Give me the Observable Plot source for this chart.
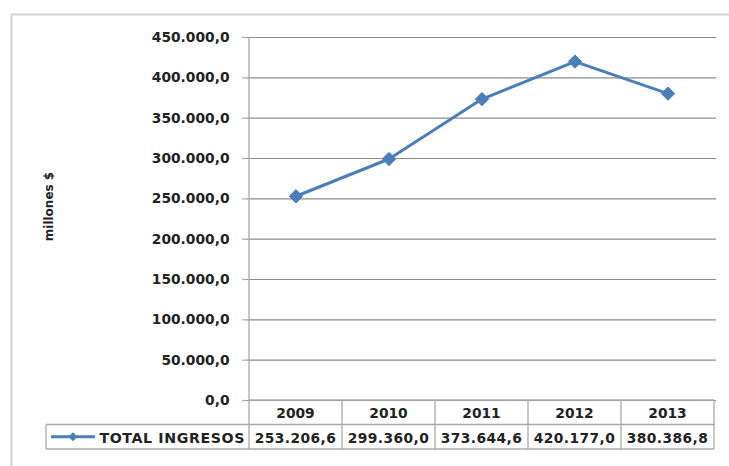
<!DOCTYPE html>
<html>
<head>
<meta charset="utf-8">
<script src="https://cdn.jsdelivr.net/npm/d3@7"></script>
<script src="https://cdn.jsdelivr.net/npm/@observablehq/plot@0.6"></script>
<style>
  body { margin: 0; background: #fff; }
  #chart { position: relative; width: 729px; height: 466px; overflow: hidden; }
</style>
</head>
<body>
<div id="chart"></div>
<script>
// Ingresos totales por año (millones $)
const years = ["2009", "2010", "2011", "2012", "2013"];
const ingresos = [253206.6, 299360.0, 373644.6, 420177.0, 380386.8];
const seriesName = "TOTAL INGRESOS";
const yTitle = "millones $";
const yTicks = [0, 50000, 100000, 150000, 200000, 250000, 300000, 350000, 400000, 450000];

const data = years.map((year, i) => ({year, value: ingresos[i]}));

// Formato numérico es: punto de miles, coma decimal
const es = d3.formatLocale({decimal: ",", thousands: ".", grouping: [3], currency: ["$", ""]});
const fmt = es.format(",.1f");

const font = "DejaVu Sans";
const lineColor = "#4a7ebb";
const gridColor = "#8c8c8c";
const tableColor = "#a9a9a9";

const plot = Plot.plot({
  width: 729,
  height: 466,
  marginTop: 37,
  marginBottom: 66,
  marginLeft: 247,
  marginRight: 13,
  style: {fontFamily: font, fontSize: "13.8px", fontWeight: "bold", color: "#222", background: "transparent", overflow: "visible"},
  x: {type: "band", domain: years, padding: 0, axis: null},
  y: {domain: [0, 450000], label: null},
  marks: [
    Plot.gridY(yTicks, {stroke: gridColor, strokeOpacity: 1, strokeWidth: 1.2}),
    Plot.axisY(yTicks, {tickFormat: fmt, tickSize: 5, tickPadding: 13, stroke: tableColor, strokeWidth: 1.2, label: null}),
    Plot.line(data, {x: "year", y: "value", stroke: lineColor, strokeWidth: 3}),
    Plot.dot(data, {x: "year", y: "value", symbol: "diamond2", r: 6, fill: lineColor, stroke: lineColor, strokeWidth: 1})
  ]
});

document.getElementById("chart").appendChild(plot);

// Marco, título del eje y tabla de datos bajo el gráfico
const svg = d3.select(plot);
const xs = plot.scale("x");
const ys = plot.scale("y");
const bw = xs.bandwidth;
const xLeft = xs.apply(years[0]);
const xRight = xs.apply(years[years.length - 1]) + bw;
const yTop = ys.apply(450000);
const yBase = ys.apply(0);
const rowH = 24.5;
const legendLeft = 46;

svg.insert("rect", ":first-child")
  .attr("x", 11.5).attr("y", 14.5)
  .attr("width", 740).attr("height", 470)
  .attr("fill", "none").attr("stroke", "#d4d4d4").attr("stroke-width", 2);

svg.append("text")
  .attr("transform", `translate(49,${(yTop + yBase) / 2 - 12}) rotate(-90)`)
  .attr("text-anchor", "middle")
  .attr("dominant-baseline", "middle")
  .attr("font-family", font).attr("font-weight", "bold").attr("font-size", 12)
  .attr("fill", "#222")
  .text(yTitle);

const g = svg.append("g").attr("stroke", tableColor).attr("stroke-width", 1.3).attr("fill", "none");
// eje vertical izquierdo hasta el pie de la tabla
g.append("line").attr("x1", xLeft).attr("x2", xLeft).attr("y1", yTop).attr("y2", yBase + 2 * rowH);
// líneas horizontales de la tabla
g.append("line").attr("x1", xLeft).attr("x2", xRight).attr("y1", yBase).attr("y2", yBase);
g.append("line").attr("x1", legendLeft).attr("x2", xRight).attr("y1", yBase + rowH).attr("y2", yBase + rowH);
g.append("line").attr("x1", legendLeft).attr("x2", xRight).attr("y1", yBase + 2 * rowH).attr("y2", yBase + 2 * rowH);
g.append("line").attr("x1", legendLeft).attr("x2", legendLeft).attr("y1", yBase + rowH).attr("y2", yBase + 2 * rowH);
// separadores de columnas
years.forEach(y => {
  const xr = xs.apply(y) + bw;
  g.append("line").attr("x1", xr).attr("x2", xr).attr("y1", yBase).attr("y2", yBase + 2 * rowH);
});

const t = svg.append("g")
  .attr("font-family", font).attr("font-weight", "bold").attr("font-size", 13.8)
  .attr("fill", "#222").attr("text-anchor", "middle").attr("dominant-baseline", "central");
years.forEach((y, i) => {
  const cx = xs.apply(y) + bw / 2;
  t.append("text").attr("x", cx).attr("y", yBase + rowH / 2 + 1).text(y);
  t.append("text").attr("x", cx).attr("y", yBase + rowH * 1.5 + 1).attr("letter-spacing", 0.4).text(fmt(ingresos[i]));
});

// clave de la serie
const ly = yBase + rowH * 1.5;
svg.append("line")
  .attr("x1", legendLeft + 5).attr("x2", legendLeft + 49)
  .attr("y1", ly).attr("y2", ly)
  .attr("stroke", lineColor).attr("stroke-width", 3);
svg.append("path")
  .attr("d", d3.symbol(d3.symbolDiamond2, 50)())
  .attr("transform", `translate(${legendLeft + 27},${ly})`)
  .attr("fill", lineColor);
svg.append("text")
  .attr("x", xLeft - 4).attr("y", ly + 1)
  .attr("text-anchor", "end").attr("dominant-baseline", "central")
  .attr("font-family", font).attr("font-weight", "bold").attr("font-size", 14.2)
  .attr("letter-spacing", 0.6)
  .attr("fill", "#222")
  .text(seriesName);
</script>
</body>
</html>
